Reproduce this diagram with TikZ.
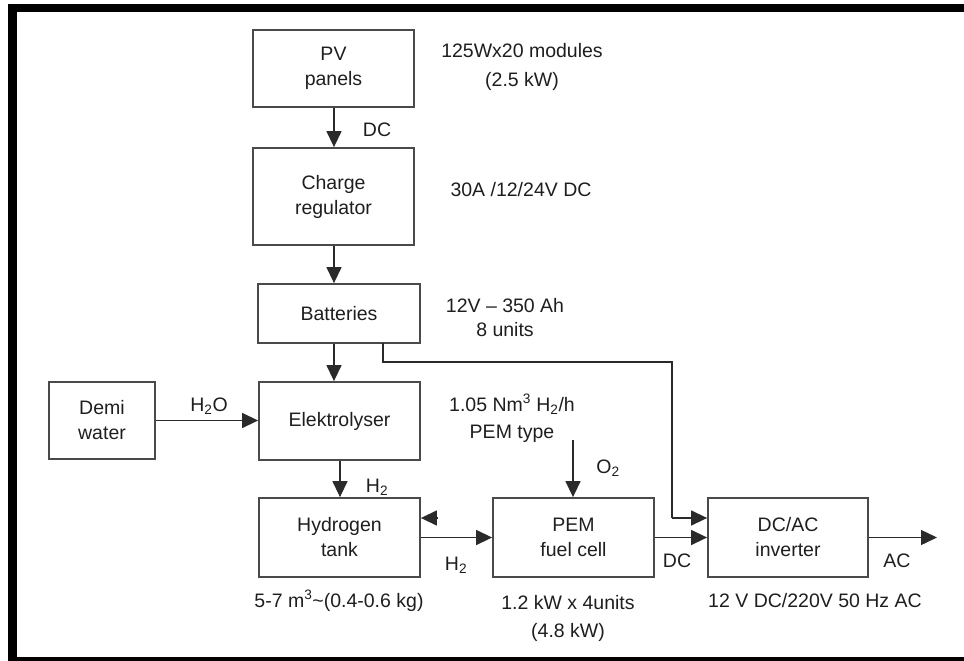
\documentclass[tikz,border=0pt]{standalone}
\usepackage{fontspec}
\setmainfont{Liberation Sans}
\usetikzlibrary{arrows.meta}
\definecolor{boxgray}{HTML}{4A4A4A}
\definecolor{linegray}{HTML}{2A2A2A}
\definecolor{txt}{HTML}{1E1E1E}
\tikzset{
  blk/.style={draw=boxgray, line width=1.8pt, rectangle, inner sep=0pt, align=center, text=txt,
              font=\fontsize{19.5}{25}\selectfont},
  lbl/.style={inner sep=0pt, align=center, text=txt, font=\fontsize{19.5}{25}\selectfont},
  arr/.style={draw=linegray, line width=1.4pt, -{Triangle[length=16pt,width=15pt]}},
  ln/.style={draw=linegray, line width=1.4pt},
}
\begin{document}
\begin{tikzpicture}[x=1pt,y=-1pt]
\useasboundingbox (0,0) rectangle (964,661);
% frame
\fill[black] (8,4) rectangle (17,661);
\fill[black] (8,4) rectangle (964,12);
\fill[black] (8,657) rectangle (964,661);

% blocks
\node[blk, minimum width=161pt, minimum height=77pt] (pv) at (333.5,68.5) {PV\\panels};
\node[blk, minimum width=161pt, minimum height=97pt] (cr) at (333.5,196.5) {Charge\\regulator};
\node[blk, minimum width=162pt, minimum height=59pt] (bat) at (339,313.5) {Batteries};
\node[blk, minimum width=161pt, minimum height=78pt] (el) at (339.5,421) {Elektrolyser};
\node[blk, minimum width=106pt, minimum height=77pt] (dw) at (102,420.5) {Demi\\water};
\node[blk, minimum width=161pt, minimum height=79pt] (ht) at (339.5,537.5) {Hydrogen\\tank};
\node[blk, minimum width=161pt, minimum height=79pt] (fc) at (573.5,537.5) {PEM\\fuel cell};
\node[blk, minimum width=160pt, minimum height=79pt] (inv) at (788,537.5) {DC/AC\\inverter};

% helper coordinates
\coordinate (batout) at (383,343);
\coordinate (bend1) at (383,362);
\coordinate (bend2) at (672,362);
\coordinate (bend3) at (672,518);
\coordinate (o2src) at (573,440);
\coordinate (acend) at (937,537.5);
\coordinate (htback) at (438,518);

% connectors
\draw[arr] (pv.south -| 334,0) -- (cr.north -| 334,0);
\draw[arr] (cr.south -| 334,0) -- (bat.north -| 334,0);
\draw[arr] (bat.south -| 334,0) -- (el.north -| 334,0);
\draw[arr] (el.south -| 340,0) -- (ht.north -| 340,0);
\draw[arr] (dw.east) -- (el.west |- dw.east);
\draw[ln] (batout) -- (bend1) -- (bend2) -- (bend3);
\draw[arr] (bend3) -- (inv.west |- bend3);
\draw[arr] (o2src) -- (fc.north -| o2src);
\draw[arr] (ht.east) -- (fc.west);
\draw[arr] (fc.east) -- (inv.west);
\draw[arr] (inv.east) -- (acend);
\draw[arr, shorten <=0pt] (htback) -- (ht.east |- htback);

% labels
\node[lbl, font=\fontsize{19.5}{29}\selectfont] (l1) at (522,67) {125Wx20 modules\\(2.5 kW)};
\node[lbl] (l2) at (377,130) {DC};
\node[lbl] (l3) at (521,190) {30A /12/24V DC};
\node[lbl, font=\fontsize{19.5}{24}\selectfont] (l4) at (505,318) {12V – 350 Ah\\8 units};
\node[lbl, font=\fontsize{19.5}{27}\selectfont] (l5) at (512,418) {1.05 Nm\textsuperscript{3} H\textsubscript{2}/h\\PEM type};
\node[lbl] (l6) at (209,406) {H\textsubscript{2}O};
\node[lbl] (l7) at (377,487) {H\textsubscript{2}};
\node[lbl] (l8) at (608,468) {O\textsubscript{2}};
\node[lbl] (l9) at (456,565) {H\textsubscript{2}};
\node[lbl] (l10) at (677,561) {DC};
\node[lbl] (l11) at (897,561) {AC};
\node[lbl] (l12) at (339,601) {5-7 m\textsuperscript{3}\textasciitilde(0.4-0.6 kg)};
\node[lbl, font=\fontsize{19.5}{28}\selectfont] (l13) at (568,618) {1.2 kW x 4units\\(4.8 kW)};
\node[lbl] (l14) at (815,601) {12 V DC/220V 50 Hz AC};
\end{tikzpicture}
\end{document}
